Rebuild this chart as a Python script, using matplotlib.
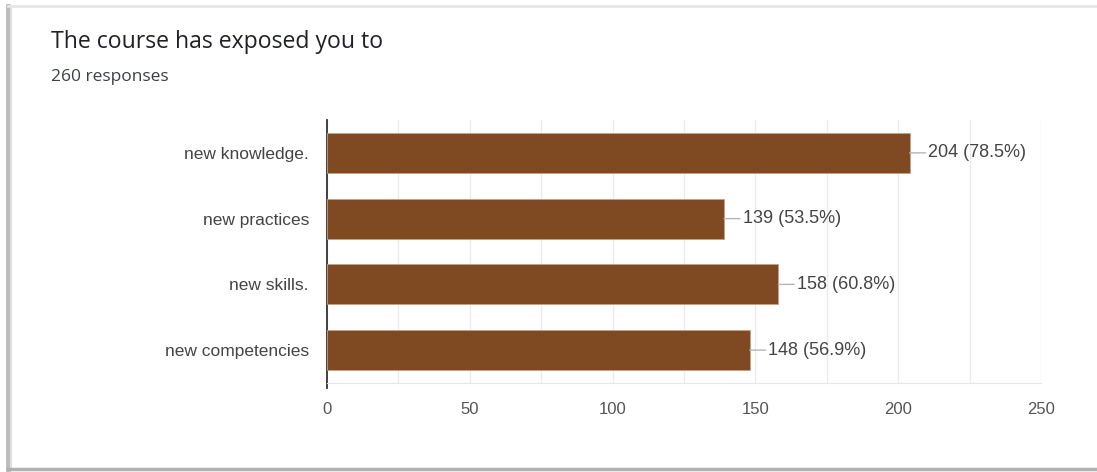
import matplotlib
matplotlib.use("Agg")
import matplotlib.pyplot as plt
from matplotlib.lines import Line2D

categories = ["new knowledge.", "new practices", "new skills.", "new competencies"]
counts = [204, 139, 158, 148]
percents = [78.5, 53.5, 60.8, 56.9]
x_ticks = [0, 50, 100, 150, 200, 250]
title = "The course has exposed you to"
subtitle = "260 responses"

plt.rcParams['font.family'] = ['Liberation Sans', 'DejaVu Sans']

W, H = 1097, 472
fig = plt.figure(figsize=(W / 100, H / 100), dpi=100)
fig.patch.set_facecolor('white')

def fx(px):
    return px / W

def fy(py):
    return 1 - py / H

# card frame / shadow
fig.add_artist(Line2D([fx(8), fx(8)], [fy(6), fy(469)], color='#bdbdbd', lw=3.5))
fig.add_artist(Line2D([fx(11), fx(11)], [fy(6), fy(469)], color='#e0e0e0', lw=1.5))
fig.add_artist(Line2D([fx(8), fx(1097)], [fy(6), fy(6)], color='#e6e6e6', lw=2))
fig.add_artist(Line2D([fx(8), fx(1097)], [fy(469), fy(469)], color='#b0b0b0', lw=2.5))

fig.text(fx(51), fy(42), title, fontsize=16.6, color='#202124', va='center', ha='left',
         family=['Open Sans', 'DejaVu Sans'])
fig.text(fx(51), fy(77), subtitle, fontsize=12.5, color='#3c4043', va='center', ha='left',
         family=['Open Sans', 'DejaVu Sans'])

ax = fig.add_axes([fx(327), fy(383), fx(1041) - fx(327), (383 - 120) / H])
ypos = list(range(len(categories)))
ax.barh(ypos, counts, height=0.61, color='#7f4a22', edgecolor='#c8a184', linewidth=0.6, zorder=3)
ax.set_ylim(len(categories) - 0.5, -0.5)
ax.set_xlim(0, 250)
ax.set_yticks(ypos)
ax.set_yticklabels(categories, fontsize=12.5, color='#444444')
ax.set_xticks(x_ticks)
ax.set_xticklabels([str(t) for t in x_ticks], fontsize=12, color='#555555')
ax.set_xticks([t + 25 for t in x_ticks[:-1]], minor=True)
ax.grid(axis='x', which='both', color='#ececec', lw=1, zorder=0)
ax.tick_params(axis='both', which='both', length=0)
ax.tick_params(axis='y', pad=13)
ax.tick_params(axis='x', pad=14)
for s in ['top', 'right']:
    ax.spines[s].set_visible(False)
ax.spines['left'].set_color('#333333')
ax.spines['left'].set_linewidth(1.3)
ax.spines['left'].set_bounds(-0.5, 3.57)
ax.spines['bottom'].set_color('#e6e6e6')

for i, (c, p) in enumerate(zip(counts, percents)):
    ax.annotate(f"{c} ({p}%)", xy=(c, i), xytext=(13.5, 0), textcoords='offset points',
                ha='left', va='center', fontsize=13, color='#444444',
                arrowprops=dict(arrowstyle='-', color='#b5b5b5', lw=1, shrinkA=0, shrinkB=0,
                                relpos=(0, 0.5)), zorder=4)

fig.savefig("out.png", dpi=100, facecolor='white')
